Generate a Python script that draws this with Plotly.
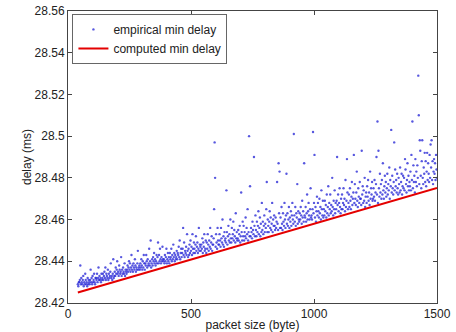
import plotly.graph_objects as go

# packet sizes (bytes) of the empirical measurements
packet_size = [
    40, 42, 44, 46, 48, 50, 52, 54, 56, 58, 60, 62, 64, 66, 68, 70, 72, 74, 76, 78, 80, 82, 84, 86, 88,
    90, 92, 94, 96, 98, 100, 102, 104, 106, 108, 110, 112, 114, 116, 118, 120, 122, 124, 126, 128, 130, 132, 134, 136, 138,
    140, 142, 144, 146, 148, 150, 152, 154, 156, 158, 160, 162, 164, 166, 168, 170, 172, 174, 176, 178, 180, 182, 184, 186, 188,
    190, 192, 194, 196, 198, 200, 202, 204, 206, 208, 210, 212, 214, 216, 218, 220, 222, 224, 226, 228, 230, 232, 234, 236, 238,
    240, 242, 244, 246, 248, 250, 252, 254, 256, 258, 260, 262, 264, 266, 268, 270, 272, 274, 276, 278, 280, 282, 284, 286, 288,
    290, 292, 294, 296, 298, 300, 302, 304, 306, 308, 310, 312, 314, 316, 318, 320, 322, 324, 326, 328, 330, 332, 334, 336, 338,
    340, 342, 344, 346, 348, 350, 352, 354, 356, 358, 360, 362, 364, 366, 368, 370, 372, 374, 376, 378, 380, 382, 384, 386, 388,
    390, 392, 394, 396, 398, 400, 402, 404, 406, 408, 410, 412, 414, 416, 418, 420, 422, 424, 426, 428, 430, 432, 434, 436, 438,
    440, 442, 444, 446, 448, 450, 452, 454, 456, 458, 460, 462, 464, 466, 468, 470, 472, 474, 476, 478, 480, 482, 484, 486, 488,
    490, 492, 494, 496, 498, 500, 502, 504, 506, 508, 510, 512, 514, 516, 518, 520, 522, 524, 526, 528, 530, 532, 534, 536, 538,
    540, 542, 544, 546, 548, 550, 552, 554, 556, 558, 560, 562, 564, 566, 568, 570, 572, 574, 576, 578, 580, 582, 584, 586, 588,
    590, 592, 594, 596, 598, 600, 602, 604, 606, 608, 610, 612, 614, 616, 618, 620, 622, 624, 626, 628, 630, 632, 634, 636, 638,
    640, 642, 644, 646, 648, 650, 652, 654, 656, 658, 660, 662, 664, 666, 668, 670, 672, 674, 676, 678, 680, 682, 684, 686, 688,
    690, 692, 694, 696, 698, 700, 702, 704, 706, 708, 710, 712, 714, 716, 718, 720, 722, 724, 726, 728, 730, 732, 734, 736, 738,
    740, 742, 744, 746, 748, 750, 752, 754, 756, 758, 760, 762, 764, 766, 768, 770, 772, 774, 776, 778, 780, 782, 784, 786, 788,
    790, 792, 794, 796, 798, 800, 802, 804, 806, 808, 810, 812, 814, 816, 818, 820, 822, 824, 826, 828, 830, 832, 834, 836, 838,
    840, 842, 844, 846, 848, 850, 852, 854, 856, 858, 860, 862, 864, 866, 868, 870, 872, 874, 876, 878, 880, 882, 884, 886, 888,
    890, 892, 894, 896, 898, 900, 902, 904, 906, 908, 910, 912, 914, 916, 918, 920, 922, 924, 926, 928, 930, 932, 934, 936, 938,
    940, 942, 944, 946, 948, 950, 952, 954, 956, 958, 960, 962, 964, 966, 968, 970, 972, 974, 976, 978, 980, 982, 984, 986, 988,
    990, 992, 994, 996, 998, 1000, 1002, 1004, 1006, 1008, 1010, 1012, 1014, 1016, 1018, 1020, 1022, 1024, 1026, 1028, 1030, 1032, 1034, 1036, 1038,
    1040, 1042, 1044, 1046, 1048, 1050, 1052, 1054, 1056, 1058, 1060, 1062, 1064, 1066, 1068, 1070, 1072, 1074, 1076, 1078, 1080, 1082, 1084, 1086, 1088,
    1090, 1092, 1094, 1096, 1098, 1100, 1102, 1104, 1106, 1108, 1110, 1112, 1114, 1116, 1118, 1120, 1122, 1124, 1126, 1128, 1130, 1132, 1134, 1136, 1138,
    1140, 1142, 1144, 1146, 1148, 1150, 1152, 1154, 1156, 1158, 1160, 1162, 1164, 1166, 1168, 1170, 1172, 1174, 1176, 1178, 1180, 1182, 1184, 1186, 1188,
    1190, 1192, 1194, 1196, 1198, 1200, 1202, 1204, 1206, 1208, 1210, 1212, 1214, 1216, 1218, 1220, 1222, 1224, 1226, 1228, 1230, 1232, 1234, 1236, 1238,
    1240, 1242, 1244, 1246, 1248, 1250, 1252, 1254, 1256, 1258, 1260, 1262, 1264, 1266, 1268, 1270, 1272, 1274, 1276, 1278, 1280, 1282, 1284, 1286, 1288,
    1290, 1292, 1294, 1296, 1298, 1300, 1302, 1304, 1306, 1308, 1310, 1312, 1314, 1316, 1318, 1320, 1322, 1324, 1326, 1328, 1330, 1332, 1334, 1336, 1338,
    1340, 1342, 1344, 1346, 1348, 1350, 1352, 1354, 1356, 1358, 1360, 1362, 1364, 1366, 1368, 1370, 1372, 1374, 1376, 1378, 1380, 1382, 1384, 1386, 1388,
    1390, 1392, 1394, 1396, 1398, 1400, 1402, 1404, 1406, 1408, 1410, 1412, 1414, 1416, 1418, 1420, 1422, 1424, 1426, 1428, 1430, 1432, 1434, 1436, 1438,
    1440, 1442, 1444, 1446, 1448, 1450, 1452, 1454, 1456, 1458, 1460, 1462, 1464, 1466, 1468, 1470, 1472, 1474, 1476, 1478, 1480, 1482, 1484, 1486, 1488,
    1490, 1492, 1494, 1496, 1498, 1500,
]

# empirical minimum delay (ms) for each packet size
empirical_delay = [
    28.429, 28.428, 28.430, 28.430, 28.431, 28.438, 28.429, 28.432, 28.430, 28.429, 28.431, 28.433, 28.428, 28.430, 28.429, 28.434, 28.431, 28.429, 28.430, 28.428, 28.432, 28.429, 28.431, 28.430, 28.429,
    28.431, 28.436, 28.430, 28.432, 28.429, 28.433, 28.430, 28.431, 28.434, 28.430, 28.429, 28.432, 28.432, 28.431, 28.434, 28.430, 28.432, 28.437, 28.431, 28.433, 28.431, 28.432, 28.430, 28.434, 28.431,
    28.432, 28.434, 28.431, 28.433, 28.435, 28.432, 28.437, 28.431, 28.434, 28.433, 28.432, 28.436, 28.431, 28.434, 28.432, 28.433, 28.435, 28.439, 28.432, 28.433, 28.431, 28.434, 28.441, 28.432, 28.433,
    28.435, 28.433, 28.437, 28.434, 28.436, 28.440, 28.434, 28.435, 28.433, 28.438, 28.436, 28.434, 28.435, 28.442, 28.433, 28.436, 28.434, 28.437, 28.435, 28.434, 28.439, 28.433, 28.436, 28.435, 28.434,
    28.436, 28.438, 28.435, 28.437, 28.440, 28.436, 28.439, 28.435, 28.437, 28.443, 28.436, 28.438, 28.435, 28.439, 28.437, 28.436, 28.441, 28.438, 28.435, 28.437, 28.436, 28.439, 28.445, 28.436, 28.437,
    28.438, 28.436, 28.439, 28.437, 28.441, 28.438, 28.436, 28.440, 28.437, 28.443, 28.439, 28.436, 28.439, 28.438, 28.443, 28.440, 28.437, 28.441, 28.438, 28.439, 28.446, 28.438, 28.440, 28.450, 28.437,
    28.439, 28.441, 28.438, 28.442, 28.440, 28.444, 28.439, 28.441, 28.438, 28.440, 28.443, 28.439, 28.442, 28.449, 28.439, 28.443, 28.440, 28.446, 28.441, 28.439, 28.442, 28.440, 28.447, 28.441, 28.440,
    28.441, 28.439, 28.443, 28.440, 28.442, 28.446, 28.439, 28.441, 28.444, 28.440, 28.442, 28.439, 28.444, 28.441, 28.442, 28.446, 28.440, 28.443, 28.441, 28.448, 28.442, 28.444, 28.440, 28.443, 28.441,
    28.442, 28.445, 28.441, 28.444, 28.443, 28.447, 28.442, 28.450, 28.441, 28.444, 28.446, 28.442, 28.444, 28.446, 28.456, 28.443, 28.449, 28.442, 28.445, 28.444, 28.447, 28.443, 28.453, 28.445, 28.442,
    28.446, 28.443, 28.448, 28.444, 28.450, 28.445, 28.447, 28.443, 28.453, 28.446, 28.444, 28.449, 28.446, 28.444, 28.448, 28.452, 28.445, 28.447, 28.449, 28.444, 28.446, 28.456, 28.445, 28.448, 28.447,
    28.445, 28.448, 28.446, 28.451, 28.444, 28.449, 28.447, 28.453, 28.445, 28.446, 28.450, 28.444, 28.449, 28.446, 28.453, 28.448, 28.445, 28.450, 28.447, 28.456, 28.446, 28.449, 28.452, 28.445, 28.448,
    28.448, 28.451, 28.465, 28.497, 28.480, 28.447, 28.453, 28.449, 28.446, 28.456, 28.450, 28.448, 28.448, 28.453, 28.450, 28.447, 28.456, 28.451, 28.449, 28.460, 28.448, 28.452, 28.447, 28.454, 28.450,
    28.451, 28.449, 28.474, 28.454, 28.448, 28.452, 28.457, 28.450, 28.453, 28.449, 28.460, 28.451, 28.449, 28.456, 28.451, 28.453, 28.459, 28.450, 28.455, 28.452, 28.449, 28.463, 28.451, 28.454, 28.450,
    28.451, 28.455, 28.450, 28.453, 28.457, 28.449, 28.452, 28.473, 28.454, 28.450, 28.459, 28.452, 28.457, 28.450, 28.454, 28.452, 28.461, 28.451, 28.456, 28.453, 28.465, 28.450, 28.454, 28.500, 28.452,
    28.476, 28.452, 28.456, 28.454, 28.451, 28.459, 28.455, 28.453, 28.490, 28.457, 28.452, 28.462, 28.455, 28.452, 28.459, 28.454, 28.457, 28.464, 28.453, 28.456, 28.461, 28.452, 28.458, 28.454, 28.468,
    28.455, 28.459, 28.453, 28.457, 28.462, 28.454, 28.458, 28.456, 28.465, 28.478, 28.454, 28.460, 28.457, 28.454, 28.459, 28.464, 28.456, 28.461, 28.455, 28.458, 28.468, 28.454, 28.460, 28.457, 28.462,
    28.457, 28.455, 28.461, 28.456, 28.459, 28.478, 28.458, 28.455, 28.487, 28.463, 28.483, 28.456, 28.461, 28.456, 28.466, 28.458, 28.455, 28.463, 28.459, 28.457, 28.468, 28.460, 28.456, 28.462, 28.482,
    28.458, 28.463, 28.457, 28.460, 28.466, 28.456, 28.461, 28.459, 28.464, 28.457, 28.462, 28.468, 28.460, 28.458, 28.501, 28.462, 28.459, 28.466, 28.457, 28.463, 28.461, 28.477, 28.458, 28.464, 28.460,
    28.459, 28.463, 28.460, 28.466, 28.462, 28.458, 28.469, 28.461, 28.464, 28.459, 28.487, 28.462, 28.461, 28.466, 28.459, 28.463, 28.472, 28.460, 28.464, 28.468, 28.462, 28.460, 28.465, 28.475, 28.461,
    28.462, 28.460, 28.465, 28.502, 28.463, 28.468, 28.491, 28.461, 28.466, 28.459, 28.464, 28.471, 28.462, 28.468, 28.464, 28.461, 28.470, 28.463, 28.466, 28.460, 28.474, 28.465, 28.462, 28.469, 28.461,
    28.465, 28.462, 28.469, 28.464, 28.467, 28.461, 28.472, 28.463, 28.466, 28.476, 28.462, 28.468, 28.465, 28.472, 28.463, 28.467, 28.464, 28.480, 28.466, 28.462, 28.469, 28.465, 28.474, 28.463, 28.468,
    28.465, 28.469, 28.490, 28.467, 28.472, 28.464, 28.468, 28.475, 28.466, 28.463, 28.470, 28.465, 28.472, 28.465, 28.468, 28.475, 28.467, 28.470, 28.464, 28.479, 28.466, 28.469, 28.489, 28.473, 28.465,
    28.468, 28.472, 28.466, 28.475, 28.469, 28.465, 28.471, 28.478, 28.467, 28.470, 28.473, 28.491, 28.468, 28.477, 28.470, 28.467, 28.473, 28.483, 28.469, 28.466, 28.475, 28.471, 28.468, 28.478, 28.470,
    28.470, 28.467, 28.493, 28.472, 28.476, 28.468, 28.474, 28.469, 28.480, 28.466, 28.471, 28.473, 28.468, 28.476, 28.471, 28.479, 28.469, 28.473, 28.467, 28.483, 28.470, 28.475, 28.472, 28.478, 28.469,
    28.470, 28.475, 28.471, 28.479, 28.469, 28.473, 28.477, 28.490, 28.472, 28.507, 28.468, 28.493, 28.475, 28.471, 28.482, 28.473, 28.477, 28.470, 28.479, 28.472, 28.487, 28.474, 28.470, 28.476, 28.481,
    28.473, 28.478, 28.471, 28.475, 28.482, 28.472, 28.477, 28.474, 28.485, 28.470, 28.479, 28.476, 28.503, 28.473, 28.481, 28.475, 28.472, 28.478, 28.497, 28.474, 28.484, 28.476, 28.479, 28.473, 28.482,
    28.475, 28.472, 28.480, 28.477, 28.473, 28.485, 28.474, 28.478, 28.482, 28.472, 28.476, 28.481, 28.475, 28.480, 28.474, 28.489, 28.484, 28.477, 28.473, 28.479, 28.487, 28.476, 28.481, 28.474, 28.478,
    28.476, 28.483, 28.474, 28.491, 28.479, 28.507, 28.475, 28.486, 28.478, 28.481, 28.473, 28.489, 28.478, 28.483, 28.476, 28.486, 28.480, 28.529, 28.510, 28.477, 28.498, 28.493, 28.481, 28.475, 28.488,
    28.498, 28.480, 28.477, 28.485, 28.482, 28.492, 28.478, 28.488, 28.476, 28.483, 28.492, 28.479, 28.487, 28.482, 28.478, 28.491, 28.480, 28.496, 28.485, 28.498, 28.479, 28.488, 28.477, 28.483, 28.489,
    28.482, 28.487, 28.479, 28.491, 28.484, 28.480,
]

# computed minimum delay (ms): end points of the fitted line
computed_size = [40, 1500]
computed_delay = [28.4250, 28.4751]

x_ticks = [0, 500, 1000, 1500]
x_tick_labels = ["0", "500", "1000", "1500"]
y_ticks = [28.42, 28.44, 28.46, 28.48, 28.50, 28.52, 28.54, 28.56]
y_tick_labels = ["28.42", "28.44", "28.46", "28.48", "28.5", "28.52", "28.54", "28.56"]

FONT = "Liberation Sans, Arial, sans-serif"
AX = "#444444"

fig = go.Figure()
fig.add_trace(go.Scatter(
    x=packet_size, y=empirical_delay, mode="markers",
    name="empirical min delay",
    marker=dict(size=2.4, color="rgba(45,45,215,0.8)", line=dict(width=0)),
))
fig.add_trace(go.Scatter(
    x=computed_size, y=computed_delay, mode="lines",
    name="computed min delay",
    line=dict(color="rgb(228,0,0)", width=2),
))

axis_common = dict(
    showgrid=False, zeroline=False, showline=True, linecolor=AX, linewidth=1,
    mirror="ticks", ticks="inside", ticklen=4, tickcolor=AX, tickwidth=1,
    tickfont=dict(family=FONT, size=12, color="#222222"), automargin=False,
)

fig.update_layout(
    width=456, height=332,
    margin=dict(l=68, r=19, t=11, b=29),
    paper_bgcolor="white", plot_bgcolor="white",
    template="none",
    font=dict(family=FONT, size=12, color="#222222"),
    showlegend=True,
    legend=dict(
        x=0.012, y=0.99, xanchor="left", yanchor="top",
        bgcolor="white", bordercolor="#666666", borderwidth=1,
        font=dict(family=FONT, size=12, color="#222222"),
        tracegroupgap=0, itemwidth=30,
    ),
    xaxis=dict(
        range=[0, 1500], tickmode="array", tickvals=x_ticks, ticktext=x_tick_labels,
        title=dict(text="packet size (byte)", font=dict(family=FONT, size=12, color="#222222"), standoff=2),
        **axis_common,
    ),
    yaxis=dict(
        range=[28.42, 28.56], tickmode="array", tickvals=y_ticks, ticktext=y_tick_labels,
        title=dict(text="delay (ms)", font=dict(family=FONT, size=12, color="#222222"), standoff=0),
        **axis_common,
    ),
)

fig.write_html("out.html")
